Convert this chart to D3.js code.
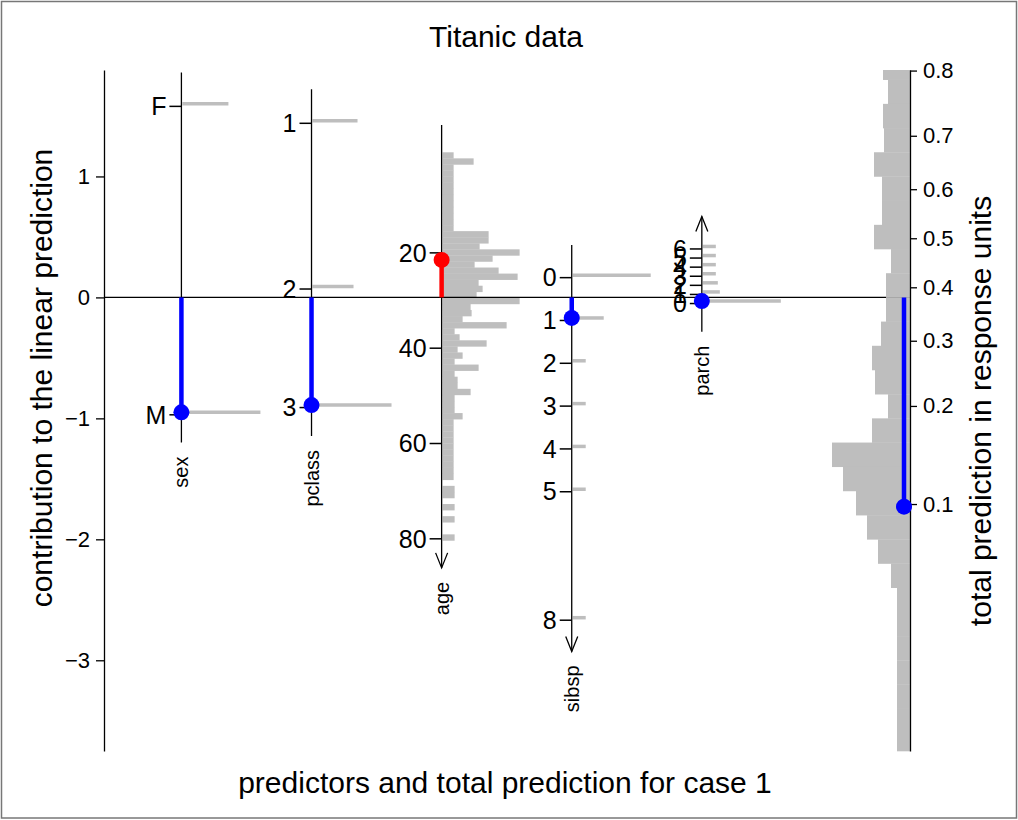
<!DOCTYPE html>
<html><head><meta charset="utf-8">
<script src="https://cdn.jsdelivr.net/npm/d3@7"></script>
<style>
body{margin:0;background:#fff}
svg{display:block}
text{font-family:"Liberation Sans",Arial,Helvetica,sans-serif;fill:#000}
</style>
</head><body>
<svg id="chart" width="1018" height="820"></svg>
<script>
// ================= DATA =================
const chartTitle = "Titanic data";
const xTitle = "predictors and total prediction for case 1";
const yTitleLeft = "contribution to the linear prediction";
const yTitleRight = "total prediction in response units";
const predictors = ["sex", "pclass", "age", "sibsp", "parch"];

// sex (categorical): level, contribution, relative frequency
const sexLevels = ["F", "M"];
const sexContrib = [1.60, -0.95];
const sexFreq = [46, 78];

// pclass (categorical)
const pclassLevels = ["1", "2", "3"];
const pclassContrib = [1.46, 0.09, -0.89];
const pclassFreq = [45, 41, 79];

// age (continuous)
const ageTicks = [20, 40, 60, 80];
const ageBeta = -0.0394;          // contribution per year
const ageRef = 22, ageRefContrib = 0.31;
const ageBinStart = -0.58, ageBinWidth = 1.2725;
const ageFreq = [11,31,11,11,11,11,11,11,11,11,11,11,11,46,46,37,77,50,32,56,75,36,40,34,
                 77,28,29,20,64,12,17,44,15,20,12,36,12,15,15,28,12,12,12,20,
                 11,11,11,11,11,11,11,11,11,11,0,12,12,0,12,0,12,0,0,12];

// sibsp (numeric)
const sibspValues = [0, 1, 2, 3, 4, 5, 8];
const sibspFreq = [78, 31, 13, 13, 13, 13, 13];
const sibspBeta = -0.354, sibspRef = 1, sibspRefContrib = -0.17;

// parch (numeric)
const parchValues = [0, 1, 2, 3, 4, 5, 6];
const parchFreq = [78, 17, 15, 13, 13, 13, 13];
const parchBeta = 0.0752, parchRef = 0, parchRefContrib = -0.03;

// case 1
const caseValues = ["M", "3", 22, 1, 0];

// total linear prediction distribution (bins in contribution units, top to bottom)
const totalBinEdges = [2.0,1.8,1.6,1.4,1.2,1.0,0.8,0.6,0.4,0.2,0.0,-0.2,-0.4,-0.6,-0.8,-1.0,
                       -1.2,-1.4,-1.6,-1.8,-2.0,-2.2,-2.4,-2.6,-2.8,-3.0,-3.2,-3.4,-3.6,-3.8];
const totalFreq = [27,22,27,26,36,28,28,36,19,24,24,29,38,35,22,38,78,67,54,43,32,19,13,13,13,13,13,13,13];

// axes
const leftTicks = [-3, -2, -1, 0, 1];
const rightTicks = [0.1, 0.2, 0.3, 0.4, 0.5, 0.6, 0.7, 0.8];
const logitOffset = -0.489;   // logit(p) = sum of contributions + offset

// ================= LAYOUT =================
const W = 1018, H = 820;
const svg = d3.select("#chart");
const y = d3.scaleLinear().domain([-3.75, 1.88]).range([751, 70]);
const x = d3.scaleLinear().domain([-0.595, 5.6]).range([104, 910]);
const fx = d3.scaleLinear().domain([0, 78]).range([0, 78]);
const GRAY = "#bebebe", BLUE = "#0000ff", RED = "#ff0000";
const tickOffset = 2.5;

const ageC = a => ageRefContrib + ageBeta * (a - ageRef);
const sibC = s => sibspRefContrib + sibspBeta * (s - sibspRef);
const parC = p => parchRefContrib + parchBeta * (p - parchRef);

const specs = [
  {name: "sex", levels: sexLevels.map((l, i) => ({label: l, v: sexContrib[i], f: sexFreq[i]})),
   ext: [1.86, -1.2], arrow: null, caseV: sexContrib[sexLevels.indexOf(caseValues[0])]},
  {name: "pclass", levels: pclassLevels.map((l, i) => ({label: l, v: pclassContrib[i], f: pclassFreq[i]})),
   ext: [1.72, -1.145], arrow: null, caseV: pclassContrib[pclassLevels.indexOf(caseValues[1])]},
  {name: "age", levels: ageTicks.map(t => ({label: String(t), v: ageC(t)})),
   ext: [1.426, -2.236], arrow: "down", caseV: ageC(caseValues[2]), hist: true},
  {name: "sibsp", levels: sibspValues.map((s, i) => ({label: String(s), v: sibC(s), f: sibspFreq[i]})),
   ext: [0.434, -2.927], arrow: "down", caseV: sibC(caseValues[3])},
  {name: "parch", levels: parchValues.map((p, i) => ({label: String(p), v: parC(p), f: parchFreq[i]})),
   ext: [-0.283, 0.668], arrow: "up", caseV: parC(caseValues[4])}
];

// frame
svg.append("rect").attr("x", 1.5).attr("y", 1.5).attr("width", W - 3).attr("height", H - 3.5)
  .attr("fill", "none").attr("stroke", "#777").attr("stroke-width", 1.5);

// title
svg.append("text").attr("x", 506).attr("y", 47).attr("text-anchor", "middle")
  .style("font-size", "30px").text(chartTitle);
svg.append("text").attr("x", 505).attr("y", 793).attr("text-anchor", "middle")
  .style("font-size", "30px").text(xTitle);
svg.append("text").attr("transform", "translate(41,378) rotate(-90)").attr("dy", "0.35em")
  .attr("text-anchor", "middle").style("font-size", "30px").text(yTitleLeft);
svg.append("text").attr("transform", "translate(980,411) rotate(-90)").attr("dy", "0.35em")
  .attr("text-anchor", "middle").style("font-size", "30px").text(yTitleRight);

// age histogram
const ageSpec = specs[2];
const ageX = x(predictors.indexOf("age"));
svg.append("g").selectAll("rect").data(ageFreq).join("rect")
  .attr("x", ageX + 1)
  .attr("y", (d, k) => y(ageC(ageBinStart + k * ageBinWidth)))
  .attr("height", (d, k) => y(ageC(ageBinStart + (k + 1) * ageBinWidth)) - y(ageC(ageBinStart + k * ageBinWidth)) + 0.3)
  .attr("width", d => fx(d))
  .attr("fill", GRAY);

// left axis
const gL = svg.append("g").attr("transform", `translate(${x.range()[0]},0)`)
  .call(d3.axisLeft(y).tickValues(leftTicks).tickSize(8).tickSizeOuter(0).tickPadding(6).tickFormat(d3.format("d")));
gL.selectAll("text").style("font-size", "22px");
gL.selectAll("path,line").attr("stroke", "#000").attr("stroke-width", 1.3);

// zero line
svg.append("line").attr("x1", x.range()[0]).attr("x2", x.range()[1])
  .attr("y1", y(0)).attr("y2", y(0)).attr("stroke", "#000").attr("stroke-width", 1.3);

// predictor axes
specs.forEach((s, i) => {
  const ax = x(i);
  const g = svg.append("g");
  // frequency bars
  s.levels.filter(l => l.f != null).forEach(l => {
    g.append("line").attr("x1", ax + 1).attr("x2", ax + 1 + fx(l.f))
      .attr("y1", y(l.v)).attr("y2", y(l.v)).attr("stroke", GRAY).attr("stroke-width", 3.5);
  });
  // axis line
  g.append("line").attr("x1", ax).attr("x2", ax).attr("y1", y(s.ext[0])).attr("y2", y(s.ext[1]))
    .attr("stroke", "#000").attr("stroke-width", 1.3);
  // arrow
  if (s.arrow) {
    const tip = y(s.ext[1]);
    const dir = s.arrow === "down" ? -1 : 1;
    g.append("path").attr("d", `M${ax - 6},${tip + dir * 15}L${ax},${tip}L${ax + 6},${tip + dir * 15}`)
      .attr("fill", "none").attr("stroke", "#000").attr("stroke-width", 1.3);
  }
  // ticks + labels
  s.levels.forEach(l => {
    const ty = y(l.v) + tickOffset;
    g.append("line").attr("x1", ax - 12).attr("x2", ax).attr("y1", ty).attr("y2", ty)
      .attr("stroke", "#000").attr("stroke-width", 1.5);
    g.append("text").attr("x", ax - 15).attr("y", ty).attr("dy", "0.35em").attr("text-anchor", "end")
      .style("font-size", "25px").text(l.label);
  });
  // name
  const bottom = Math.max(y(s.ext[0]), y(s.ext[1]));
  g.append("text").attr("transform", `translate(${ax},${bottom + 14}) rotate(-90)`).attr("dy", "0.35em")
    .attr("text-anchor", "end").style("font-size", "20px").text(s.name);
});

// right histogram (total linear prediction)
const yTop = y.range()[1], yBot = y.range()[0];
svg.append("g").selectAll("rect").data(totalFreq).join("rect")
  .attr("x", d => x.range()[1] - fx(d))
  .attr("width", d => fx(d))
  .attr("y", (d, k) => Math.max(yTop, y(totalBinEdges[k])))
  .attr("height", (d, k) => Math.min(yBot, y(totalBinEdges[k + 1])) - Math.max(yTop, y(totalBinEdges[k])) + 0.3)
  .attr("fill", GRAY);

// right axis (probability scale)
const logit = p => Math.log(p / (1 - p));
const yR = d3.scaleLinear().domain(y.domain().map(v => v + logitOffset)).range(y.range());
const gR = svg.append("g").attr("transform", `translate(${x.range()[1]},0)`)
  .call(d3.axisRight(yR).tickValues(rightTicks.map(logit)).tickSize(7).tickSizeOuter(0).tickPadding(6)
    .tickFormat((d, i) => String(rightTicks[i])));
gR.selectAll("text").style("font-size", "22px");
gR.selectAll("path,line").attr("stroke", "#000").attr("stroke-width", 1.3);

// stems and points for case 1
specs.forEach((s, i) => {
  const ax = x(i);
  const col = s.caseV > 0 ? RED : BLUE;
  svg.append("line").attr("x1", ax).attr("x2", ax).attr("y1", y(0)).attr("y2", y(s.caseV))
    .attr("stroke", col).attr("stroke-width", 4.5);
  svg.append("circle").attr("cx", ax).attr("cy", y(s.caseV)).attr("r", 8).attr("fill", col);
});
const totalV = d3.sum(specs, s => s.caseV);
const tx = x.range()[1] - 6;
svg.append("line").attr("x1", tx).attr("x2", tx).attr("y1", y(0)).attr("y2", y(totalV))
  .attr("stroke", totalV > 0 ? RED : BLUE).attr("stroke-width", 4.5);
svg.append("circle").attr("cx", tx).attr("cy", y(totalV)).attr("r", 8).attr("fill", totalV > 0 ? RED : BLUE);
</script>
</body></html>
